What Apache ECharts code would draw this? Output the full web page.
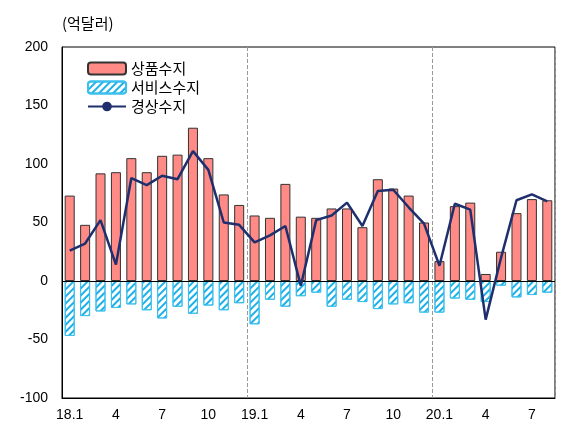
<!DOCTYPE html><html><head><meta charset="utf-8"><script src="https://cdn.jsdelivr.net/npm/echarts@6/dist/echarts.min.js"></script></head><body style="margin:0"><div id="c" style="width:571px;height:448px"></div><script>
const categories=['18.1','2','3','4','5','6','7','8','9','10','11','12','19.1','2','3','4','5','6','7','8','9','10','11','12','20.1','2','3','4','5','6','7','8'];
const goods=[73,48,92,93,105,93,107,108,131,105,74,65,56,54,83,55,54,62,62,46,87,79,73,50,17,64,67,6,25,58,70,69];
const services=[-47,-30,-26,-23,-20,-25,-32,-22,-28,-21,-25,-19,-37,-16,-22,-13,-10,-22,-16,-18,-24,-20,-19,-27,-27,-15,-16,-18,-4,-14,-12,-10];
const current=[26,32,52,14,88,82,90,87,111,95,50,48,33,39,47,-4,52,56,67,47,77,78,63,49,13,66,61,-33,20,69,74,68];
const yTicks=[-100,-50,0,50,100,150,200];
const F='"Noto Sans CJK KR", sans-serif';
const ch=echarts.init(document.getElementById('c'));
ch.setOption({
 animation:false,
 graphic:[{type:'text',left:62,top:16,style:{text:'(억달러)',font:'15px '+F,fill:'#000'}}],
 legend:{left:82,top:56,orient:'vertical',itemGap:4,itemWidth:38,itemHeight:12,textStyle:{fontFamily:F,fontSize:15,color:'#000'},data:['상품수지','서비스수지','경상수지']},
 grid:{left:62,right:16,top:47,bottom:50,show:true,borderColor:'#000',borderWidth:1},
 xAxis:{type:'category',data:categories,boundaryGap:true,position:'bottom',
  axisLine:{onZero:false,lineStyle:{color:'#000'}},
  axisTick:{interval:(i)=>i%3===0,length:5,lineStyle:{color:'#000'}},
  axisLabel:{interval:(i)=>i%3===0,color:'#000',fontSize:14,fontFamily:'Liberation Sans',margin:10},
  splitLine:{show:true,interval:(i)=>i%12===0&&i>0,lineStyle:{color:'#999',type:'dashed'}}},
 yAxis:{type:'value',min:-100,max:200,interval:50,splitLine:{show:false},
  axisLine:{show:true,lineStyle:{color:'#000'}},axisTick:{show:false},
  axisLabel:{color:'#000',fontSize:14,fontFamily:'Liberation Sans',margin:14}},
 series:[
  {name:'상품수지',type:'bar',data:goods,barWidth:'65%',barGap:'-100%',itemStyle:{color:'#ff8a86',borderColor:'#333',borderWidth:1},
   markLine:{silent:true,symbol:'none',label:{show:false},lineStyle:{color:'#000',type:'solid',width:1},data:[{yAxis:0}]}},
  {name:'서비스수지',type:'bar',data:services,barWidth:'65%',itemStyle:{color:'#fff',borderColor:'#3cc0ee',borderWidth:1,
   decal:{symbol:'rect',symbolSize:1,dashArrayX:[1,0],dashArrayY:[2,3],rotation:-Math.PI/4,color:'#1cb0e6'}}},
  {name:'경상수지',type:'line',data:current,symbol:'none',z:5,lineStyle:{color:'#1f2f6e',width:2.5},itemStyle:{color:'#1f2f6e'}}
 ]
});
</script></body></html>
